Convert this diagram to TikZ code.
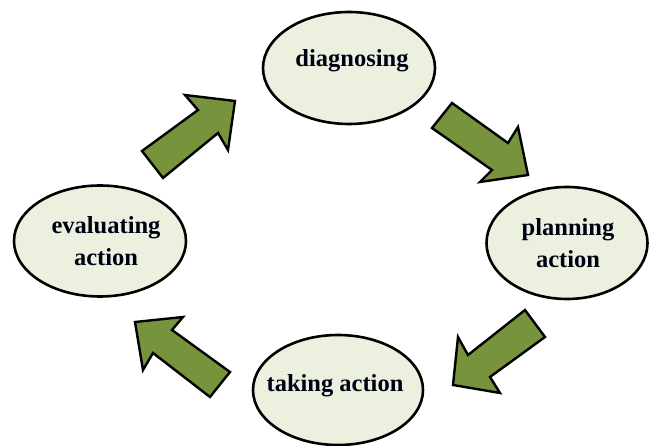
\documentclass[tikz,border=0pt]{standalone}
\usepackage{fontspec}
\setmainfont{Liberation Serif}
\usetikzlibrary{shapes.geometric}
\definecolor{ellfill}{HTML}{EBF1DE}
\definecolor{arrfill}{HTML}{77933C}
\tikzset{
  stage/.style={ellipse, draw=black, line width=2.6pt, fill=ellfill, inner sep=0pt},
  stagetext/.style={inner sep=0pt, align=center,
    font=\bfseries\fontsize{24.5}{32}\selectfont, text=black!92!blue},
  blockarrow/.style={draw=black, line width=2.4pt, fill=arrfill, line join=miter}
}
\begin{document}
\begin{tikzpicture}[x=1pt,y=-1pt]
\useasboundingbox (0,0) rectangle (651,446);
\node[stage, minimum width=172pt, minimum height=112pt] (diag) at (349,68) {};
\node[stage, minimum width=172pt, minimum height=111pt] (eval) at (100,241) {};
\node[stage, minimum width=161pt, minimum height=112pt] (plan) at (567,243) {};
\node[stage, minimum width=170pt, minimum height=110pt] (take) at (338,390) {};
\node[stagetext] (diagt) at (352,61) {diagnosing};
\node[stagetext] (evalt) at (106,241) {evaluating\\action};
\node[stagetext] (plant) at (568,243) {planning\\action};
\node[stagetext] (taket) at (335,386) {taking action};
% upper-left arrow
\draw[blockarrow] (142,151) -- (198,110) -- (185,95) -- (235,101) -- (228,150) -- (218,133) -- (163,178) -- cycle;
% upper-right arrow
\draw[blockarrow] (452,103) -- (508,143) -- (518,127) -- (528,175) -- (480,182) -- (492,170) -- (432,128) -- cycle;
% lower-right arrow
\draw[blockarrow] (525,310) -- (468,355) -- (458,337) -- (453,385) -- (500,393) -- (490,377) -- (545,337) -- cycle;
% lower-left arrow
\draw[blockarrow] (210,397) -- (153,353) -- (143,370) -- (135,322) -- (183,317) -- (172,330) -- (230,372) -- cycle;
\end{tikzpicture}
\end{document}
